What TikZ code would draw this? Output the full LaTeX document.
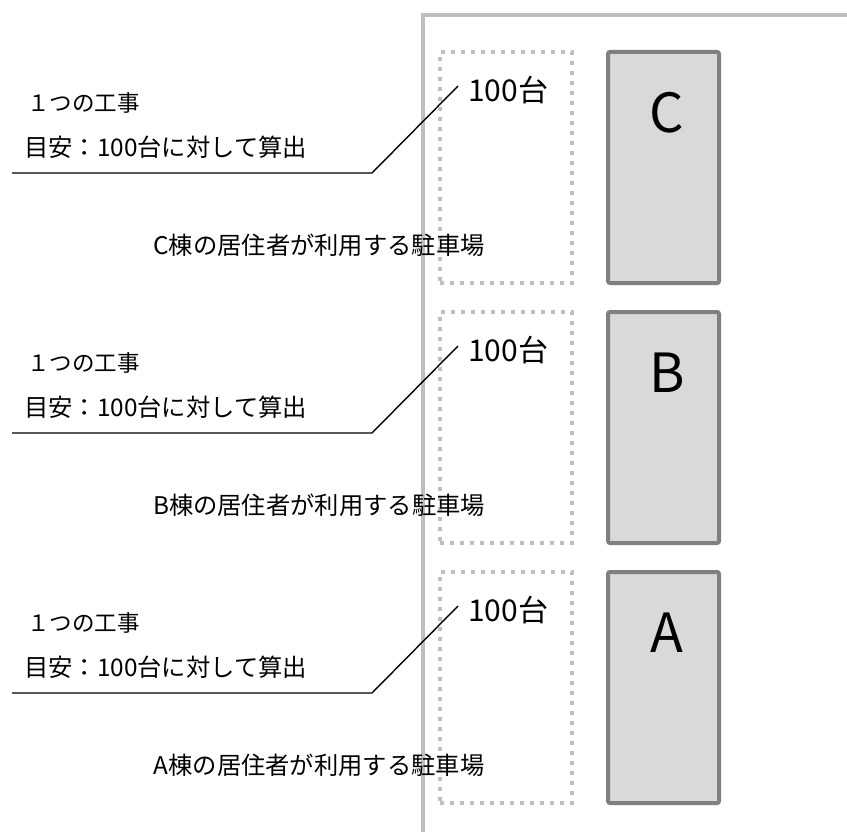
\documentclass[tikz,border=0pt]{standalone}
\usepackage{fontspec}
\setmainfont{Noto Sans CJK JP}
\begin{document}
\begin{tikzpicture}[x=1pt,y=-1pt,
  wall/.style={draw=wallgray,line width=4pt},
  lot/.style={draw=wallgray,line width=4pt,dash pattern=on 4pt off 6pt},
  bldg/.style={draw=bldgedge,fill=bldgfill,line width=4pt,rounded corners=2pt},
  lblA/.style={inner sep=0pt,font=\fontsize{22.5}{25}\selectfont},
  lblB/.style={inner sep=0pt,font=\fontsize{24.3}{27}\selectfont},
  cnt/.style={inner sep=0pt,font=\fontsize{30}{33}\selectfont},
  big/.style={inner sep=0pt,font=\fontsize{54}{60}\selectfont},
  leader/.style={draw=black,line width=1.4pt}]
\definecolor{wallgray}{HTML}{BFBFBF}
\definecolor{bldgedge}{HTML}{808080}
\definecolor{bldgfill}{HTML}{D9D9D9}
\useasboundingbox (0,0) rectangle (847,832);
% site boundary
\coordinate (w1) at (423,832);
\coordinate (w2) at (423,15);
\coordinate (w3) at (847,15);
\draw[wall] (w1) -- (w2) -- (w3);
\foreach \name/\dy in {C/0,B/260,A/520}{
  \begin{scope}[yshift=-\dy pt]
    \node[lot,minimum width=132pt,minimum height=231pt,inner sep=0pt] (lot\name) at (506,167.5) {};
    \node[bldg,minimum width=111pt,minimum height=231pt,inner sep=0pt] (b\name) at (663.5,167.5) {};
    \node[big] (l\name) at (667,113) {\name};
    \node[cnt,anchor=west] (n\name) at (468,90) {100台};
    \node[lblA,anchor=west] (t1\name) at (27,103) {１つの工事};
    \node[lblB,anchor=west] (t2\name) at (24,147) {目安：100台に対して算出};
    \node[lblB] (u\name) at (319,245) {\name 棟の居住者が利用する駐車場};
    \coordinate (s\name) at (12,173);
    \coordinate (k\name) at (372,173);
    \coordinate (e\name) at (458,86);
    \draw[leader] (s\name) -- (k\name) -- (e\name);
  \end{scope}
}
\end{tikzpicture}
\end{document}
